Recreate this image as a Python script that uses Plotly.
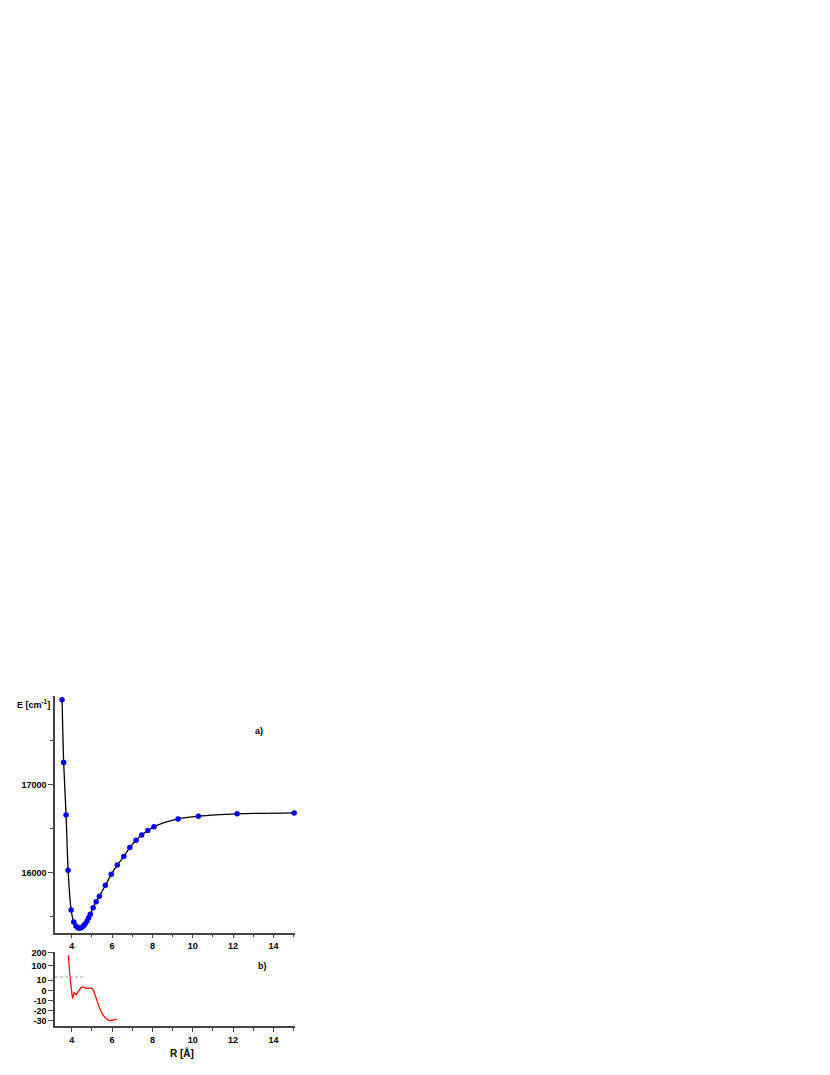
import plotly.graph_objects as go

# ---- data ----
R_pot = [3.52, 3.60, 3.72, 3.82, 3.97, 4.10, 4.21, 4.30, 4.38, 4.48, 4.58, 4.66,
         4.76, 4.84, 4.92, 5.06, 5.21, 5.37, 5.67, 5.96, 6.26, 6.58, 6.88, 7.19,
         7.47, 7.77, 8.08, 9.27, 10.28, 12.20, 15.03]
E_pot = [17962, 17250, 16655, 16027, 15576, 15439, 15394, 15375, 15368, 15375,
         15394, 15417, 15451, 15489, 15527, 15602, 15670, 15731, 15856, 15981,
         16087, 16182, 16284, 16368, 16428, 16477, 16522, 16610, 16641, 16667, 16678]

R_res = [3.84, 3.93, 3.98, 4.04, 4.12, 4.21, 4.34, 4.50, 4.67, 4.83, 4.95, 5.05,
         5.16, 5.33, 5.50, 5.66, 5.82, 5.99, 6.12, 6.24]
res = [181, 10, 2, -8, -2, -4.7, -0.7, 3.6, 2.6, 2.0, 2.6, 1.0, -4.7, -14.6,
       -22.8, -27.0, -29.4, -29.6, -29.0, -28.4]

x_major = [4, 6, 8, 10, 12, 14]
x_minor = [5, 7, 9, 11, 13, 15]
E_major = [16000, 17000]
E_minor = [15500, 16500, 17500]
res_low_ticks = [-30, -20, -10, 0, 10]
res_high_ticks = [100, 200]

X_RANGE = [3.17, 15.07]
E_RANGE = [15318, 18005]
RES_BREAK = 13.3
RES_LOW_RANGE = [-35.3, RES_BREAK]
RES_HIGH_RANGE = [RES_BREAK, 208]
BREAK_X_END = 4.57

FONT = "Liberation Sans, Arial, sans-serif"
AXIS_COLOR = "#444444"

# page has an 8px body margin: figure pixel = page pixel - 8
OFF = 8
W, H = 830 - OFF, 1075 - OFF
L_PAGE, R_PAGE = 55, 295
T_PAGE, B_PAGE = 696, 1026
PH = B_PAGE - T_PAGE
PW = R_PAGE - L_PAGE

fig = go.Figure()

fig.add_trace(go.Scatter(x=R_pot, y=E_pot, mode="lines",
                         line=dict(color="black", width=1.3, shape="spline", smoothing=0.8),
                         xaxis="x", yaxis="y", showlegend=False, hoverinfo="skip"))
fig.add_trace(go.Scatter(x=R_pot, y=E_pot, mode="markers",
                         marker=dict(color="#0000ee", size=5.5),
                         cliponaxis=False,
                         xaxis="x", yaxis="y", showlegend=False))
for ya in ("y2", "y3"):
    fig.add_trace(go.Scatter(x=R_res, y=res, mode="lines",
                             line=dict(color="red", width=1.3, shape="spline", smoothing=0.5),
                             xaxis="x2", yaxis=ya, showlegend=False))

tickfont = dict(family=FONT, size=9, color="black", weight="bold")

common_x = dict(range=X_RANGE, showline=True, linecolor=AXIS_COLOR, linewidth=1.5,
                ticks="outside", ticklen=4, tickwidth=1, tickcolor=AXIS_COLOR,
                tickmode="array", tickvals=x_major, ticktext=[str(v) for v in x_major],
                minor=dict(tickmode="array", tickvals=x_minor, ticks="outside",
                           ticklen=3, tickcolor=AXIS_COLOR),
                showgrid=False, zeroline=False, tickfont=tickfont, automargin=False)

common_y = dict(showline=True, linecolor=AXIS_COLOR, linewidth=1.5,
                ticks="outside", ticklen=5, tickwidth=1, tickcolor=AXIS_COLOR,
                showgrid=False, zeroline=False, tickfont=tickfont, automargin=False)


def dom(px_low, px_high):
    return [(B_PAGE - px_low) / PH, (B_PAGE - px_high) / PH]


def px(xp):
    return (xp - L_PAGE) / PW


def py(yp):
    return (B_PAGE - yp) / PH


fig.update_layout(
    width=W, height=H,
    margin=dict(l=L_PAGE - OFF, r=W - (R_PAGE - OFF), t=T_PAGE - OFF, b=H - (B_PAGE - OFF), pad=0),
    paper_bgcolor="white", plot_bgcolor="white",
    xaxis=dict(domain=[0, 1], anchor="y", **common_x),
    yaxis=dict(domain=dom(932.7, 696), anchor="x", range=E_RANGE,
               tickmode="array", tickvals=E_major, ticktext=[str(v) for v in E_major],
               minor=dict(tickmode="array", tickvals=E_minor, ticks="outside",
                          ticklen=3, tickcolor=AXIS_COLOR),
               **common_y),
    xaxis2=dict(domain=[0, 1], anchor="y2", **common_x),
    yaxis2=dict(domain=dom(1026, 977), anchor="x2", range=RES_LOW_RANGE,
                tickmode="array", tickvals=res_low_ticks,
                ticktext=[str(v) for v in res_low_ticks], **common_y),
    yaxis3=dict(domain=dom(977, 951.7), anchor="x2", range=RES_HIGH_RANGE,
                tickmode="array", tickvals=res_high_ticks,
                ticktext=[str(v) for v in res_high_ticks], **common_y),
    font=dict(family=FONT, color="black"),
)

fig.add_shape(type="line", xref="x2", yref="y2 domain",
              x0=X_RANGE[0], x1=BREAK_X_END, y0=1, y1=1,
              line=dict(color="#a0a0a0", width=1, dash="3px,2px"))

ann_font = dict(family=FONT, size=9, color="black", weight="bold")
fig.add_annotation(text="E [cm<sup>-1</sup>]", xref="paper", yref="paper",
                   x=px(33.7), y=py(704), showarrow=False,
                   xanchor="center", yanchor="middle", font=ann_font)
fig.add_annotation(text="a)", xref="paper", yref="paper",
                   x=px(259), y=py(731), showarrow=False,
                   xanchor="center", yanchor="middle", font=ann_font)
fig.add_annotation(text="b)", xref="paper", yref="paper",
                   x=px(262), y=py(966), showarrow=False,
                   xanchor="center", yanchor="middle", font=ann_font)
fig.add_annotation(text="R [Å]", xref="paper", yref="paper",
                   x=px(181.5), y=py(1052.5), showarrow=False,
                   xanchor="center", yanchor="middle",
                   font=dict(family=FONT, size=10, color="black", weight="bold"))

fig.write_html("out.html")
